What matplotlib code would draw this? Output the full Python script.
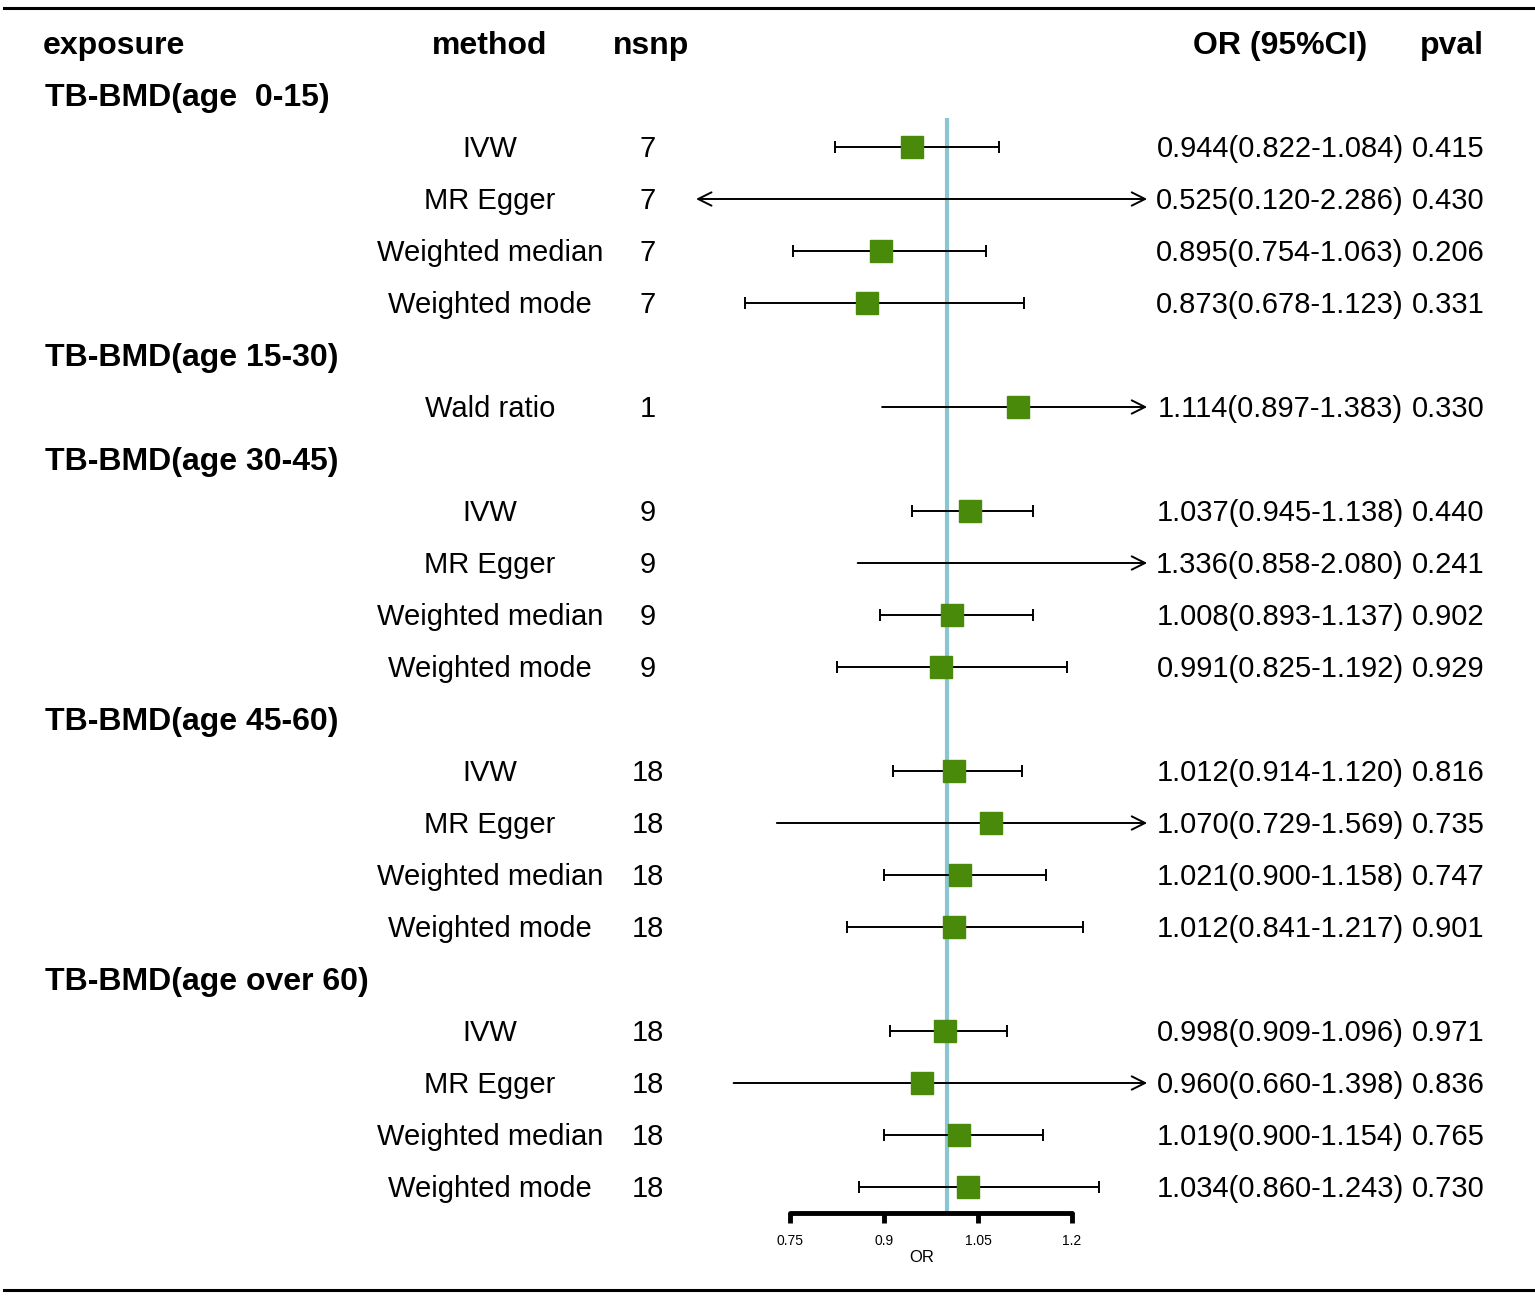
import numpy as np
import matplotlib.pyplot as plt

plt.rcParams["font.family"] = ["Liberation Sans", "DejaVu Sans"]

# データ
exposures = ["TB-BMD(age  0-15)", "TB-BMD(age 15-30)", "TB-BMD(age 30-45)",
             "TB-BMD(age 45-60)", "TB-BMD(age over 60)"]
methods = [
    ["IVW", "MR Egger", "Weighted median", "Weighted mode"],
    ["Wald ratio"],
    ["IVW", "MR Egger", "Weighted median", "Weighted mode"],
    ["IVW", "MR Egger", "Weighted median", "Weighted mode"],
    ["IVW", "MR Egger", "Weighted median", "Weighted mode"],
]
nsnp = [[7, 7, 7, 7], [1], [9, 9, 9, 9], [18, 18, 18, 18], [18, 18, 18, 18]]
or_val = [[0.944, 0.525, 0.895, 0.873], [1.114],
          [1.037, 1.336, 1.008, 0.991], [1.012, 1.070, 1.021, 1.012],
          [0.998, 0.960, 1.019, 1.034]]
or_lo = [[0.822, 0.120, 0.754, 0.678], [0.897],
         [0.945, 0.858, 0.893, 0.825], [0.914, 0.729, 0.900, 0.841],
         [0.909, 0.660, 0.900, 0.860]]
or_hi = [[1.084, 2.286, 1.063, 1.123], [1.383],
         [1.138, 2.080, 1.137, 1.192], [1.120, 1.569, 1.158, 1.217],
         [1.096, 1.398, 1.154, 1.243]]
pval = [[0.415, 0.430, 0.206, 0.331], [0.330],
        [0.440, 0.241, 0.902, 0.929], [0.816, 0.735, 0.747, 0.901],
        [0.971, 0.836, 0.765, 0.730]]
xticks = [0.75, 0.9, 1.05, 1.2]

W, H = 1535, 1299
fig = plt.figure(figsize=(W / 100, H / 100), dpi=100)

# テキスト用の全面軸(ピクセル座標)
tx = fig.add_axes([0, 0, 1, 1])
tx.set_xlim(0, W)
tx.set_ylim(H, 0)
tx.axis("off")

# フォレストプロット用の軸
xmin, xmax = 0.6, 1.32
left_px, right_px = 696, 696 + (xmax - xmin) * 626.67
ax = fig.add_axes([left_px / W, 0, (right_px - left_px) / W, 1])
ax.set_xlim(xmin, xmax)
ax.set_ylim(H, 0)
ax.patch.set_alpha(0)

row0, step = 43, 52
dy = 2  # 文字の縦位置の微調整
fs, fsb = 21, 23
col_method, col_nsnp, col_or, col_p = 490, 648, 1280, 1448

tx.text(43, row0 + dy + 1, "exposure", fontsize=fsb, fontweight="bold", va="center")
tx.text(col_method, row0 + dy + 1, "method", fontsize=fsb, fontweight="bold", ha="center", va="center")
tx.text(651, row0 + dy + 1, "nsnp", fontsize=fsb, fontweight="bold", ha="center", va="center")
tx.text(1280, row0 + dy + 1, "OR (95%CI)", fontsize=fsb, fontweight="bold", ha="center", va="center")
tx.text(1452, row0 + dy + 1, "pval", fontsize=fsb, fontweight="bold", ha="center", va="center")

green = "#4a8a0a"
row = 1
for g, name in enumerate(exposures):
    y = row0 + step * row
    tx.text(45, y + dy + 1, name, fontsize=fsb, fontweight="bold", va="center")
    row += 1
    for k, m in enumerate(methods[g]):
        y = row0 + step * row
        tx.text(col_method, y + dy, m, fontsize=fs, ha="center", va="center")
        tx.text(col_nsnp, y + dy, str(nsnp[g][k]), fontsize=fs, ha="center", va="center")
        tx.text(col_or, y + dy, f"{or_val[g][k]:.3f}({or_lo[g][k]:.3f}-{or_hi[g][k]:.3f})",
                fontsize=fs, ha="center", va="center")
        tx.text(col_p, y + dy, f"{pval[g][k]:.3f}", fontsize=fs, ha="center", va="center")

        lo, hi, est = or_lo[g][k], or_hi[g][k], or_val[g][k]
        if lo < xmin or hi > xmax:
            a, b = max(lo, xmin), min(hi, xmax)
            style = ("<->" if lo < xmin and hi > xmax
                     else "->" if hi > xmax else "<-")
            ax.annotate("", xy=(b, y), xytext=(a, y),
                        arrowprops=dict(arrowstyle=style, color="black", lw=1.4,
                                        shrinkA=0, shrinkB=0,
                                        mutation_scale=24))
        else:
            ax.errorbar(est, y, xerr=[[est - lo], [hi - est]], fmt="none",
                        ecolor="black", elinewidth=1.4, capsize=4.5, capthick=1.4)
        if xmin <= est <= xmax:
            ax.plot(est, y, marker="s", markersize=16, color=green,
                    markeredgecolor=green, zorder=5)
        row += 1

axis_y = 1213
ax.vlines(1.0, row0 + step * 1 + 23, axis_y, color="#89c6d2", lw=3, zorder=1)

# x軸
for s in ["top", "left", "right"]:
    ax.spines[s].set_visible(False)
ax.spines["bottom"].set_position(("data", axis_y))
ax.spines["bottom"].set_bounds(xticks[0], xticks[-1])
ax.spines["bottom"].set_linewidth(3.5)
ax.spines["bottom"].set_capstyle("round")
ax.set_xticks(xticks)
ax.set_xticklabels([f"{t:g}" for t in xticks], fontsize=10)
ax.tick_params(axis="x", direction="out", length=7, width=3.5, pad=8)
ax.set_yticks([])
ax.set_xlabel("OR", fontsize=12)
ax.xaxis.set_label_coords(0.5, 1 - 1250 / H, transform=ax.transAxes)

# 上下の罫線
tx.plot([4, W], [8, 8], color="black", lw=2.2)
tx.plot([4, W], [1290, 1290], color="black", lw=2.2)

plt.savefig("out.png", dpi=100)
